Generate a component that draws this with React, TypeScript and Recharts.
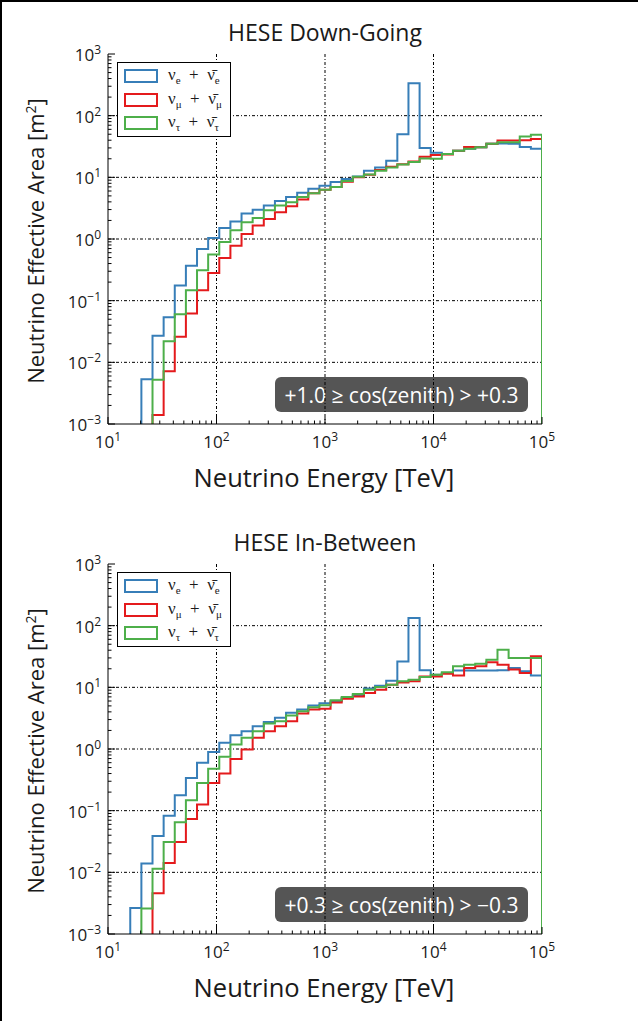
import React from 'react';
import { LineChart, Line, XAxis, YAxis, CartesianGrid } from 'recharts';

// Bin edges (TeV), 39 log-spaced bins from 10 TeV to 100 PeV
const ENERGY_EDGES_TEV = [10, 12.664, 16.037, 20.309, 25.719, 32.57, 41.246, 52.233, 66.147, 83.768, 106.08, 134.34, 170.13, 215.44, 272.83, 345.51, 437.55, 554.1, 701.7, 888.6, 1125.3, 1425.1, 1804.7, 2285.4, 2894.3, 3665.3, 4641.6, 5878.0, 7443.8, 9426.7, 11938, 15118, 19145, 24245, 30703, 38882, 49239, 62355, 78965, 100000];

// HESE Down-Going (effective area, m^2, per bin)
const DOWN_NUE = [0, 0, 0, 0.0053, 0.027, 0.054, 0.177, 0.37, 0.69, 1.04, 1.51, 1.93, 2.58, 2.99, 3.48, 4.14, 4.81, 5.6, 6.5, 7.3, 8.4, 9.4, 10.3, 12.8, 14.5, 18.6, 50, 334, 30, 25, 24, 27, 29, 30.7, 35, 35.5, 35, 31, 29];
const DOWN_NUMU = [0, 0, 0, 0, 0.0014, 0.0072, 0.026, 0.062, 0.148, 0.28, 0.49, 0.78, 1.21, 1.65, 2.12, 2.72, 3.39, 4.36, 5.5, 6.3, 7.0, 8.5, 10.0, 11.0, 13.2, 14.8, 16.3, 18.0, 21.5, 23, 23.5, 27, 31, 30.7, 35, 39.4, 39.4, 40, 42];
const DOWN_NUTAU = [0, 0, 0, 0, 0.0052, 0.022, 0.06, 0.148, 0.31, 0.56, 0.89, 1.39, 1.87, 2.2, 2.93, 3.48, 3.95, 4.8, 5.5, 6.3, 7.0, 8.7, 10.2, 11.1, 12.8, 14.5, 16.2, 17.7, 20.2, 20, 24, 27, 29, 30.7, 35, 37, 37, 46, 49];

// HESE In-Between
const MID_NUE = [0, 0, 0.00265, 0.0139, 0.039, 0.083, 0.178, 0.34, 0.6, 0.89, 1.26, 1.67, 1.94, 2.34, 2.75, 3.2, 3.86, 4.37, 5.07, 5.5, 5.95, 6.7, 7.5, 9.6, 10.6, 12.8, 26.3, 133, 19, 16, 17, 18.8, 18.8, 18.8, 18.8, 19, 20.6, 18.2, 15.5];
const MID_NUMU = [0, 0, 0, 0, 0.0046, 0.0142, 0.031, 0.073, 0.126, 0.28, 0.4, 0.69, 0.98, 1.52, 1.94, 2.34, 2.82, 3.76, 4.37, 4.5, 5.7, 6.5, 7.1, 8.1, 9.1, 11, 12, 12.5, 15, 15, 16.6, 15.5, 20.6, 21.9, 25.4, 23.3, 19.4, 17, 31.8];
const MID_NUTAU = [0, 0, 0, 0.0026, 0.0114, 0.031, 0.065, 0.147, 0.28, 0.48, 0.75, 1.18, 1.52, 1.94, 2.59, 2.82, 3.49, 4.1, 4.75, 5.1, 6.2, 7.0, 7.8, 9.1, 10.1, 11.0, 12.5, 13.3, 14.7, 16, 17.5, 21.9, 23.3, 24.2, 28.1, 40.8, 30, 30, 30];

const X_MAJOR = [10, 100, 1000, 10000, 100000];
const Y_MAJOR = [0.001, 0.01, 0.1, 1, 10, 100, 1000];
const MINOR_MULT = [2, 3, 4, 5, 6, 7, 8, 9];
const X_DECADES = [10, 100, 1000, 10000];
const Y_DECADES = [0.001, 0.01, 0.1, 1, 10, 100];
const X_TICKS = [...X_MAJOR, ...X_DECADES.flatMap((d) => MINOR_MULT.map((m) => m * d))];
const Y_TICKS = [...Y_MAJOR, ...Y_DECADES.flatMap((d) => MINOR_MULT.map((m) => +(m * d).toPrecision(3)))];

const COLORS = { nue: '#377eb8', numu: '#e41a1c', nutau: '#4daf4a' };
const FLOOR = 1e-6;
const SANS = "'Open Sans', 'DejaVu Sans', sans-serif";
const SERIF = "'Liberation Serif', 'DejaVu Serif', serif";

function buildRows(a: number[], b: number[], c: number[]) {
  const pos = (v: number) => (v > 0 ? v : FLOOR);
  const rows = a.map((_, i) => ({ e: ENERGY_EDGES_TEV[i], nue: pos(a[i]), numu: pos(b[i]), nutau: pos(c[i]) }));
  const last = a.length - 1;
  const eEnd = ENERGY_EDGES_TEV[last + 1];
  rows.push({ e: eEnd, nue: pos(a[last]), numu: pos(b[last]), nutau: pos(c[last]) });
  rows.push({ e: eEnd, nue: FLOOR, numu: FLOOR, nutau: FLOOR });
  return rows;
}

const isMajor = (v: number) => Math.abs(Math.log10(v) - Math.round(Math.log10(v))) < 1e-6;
const expText = (v: number) => {
  const n = Math.round(Math.log10(v));
  return n < 0 ? `\u2212${-n}` : `${n}`;
};

const MAJ = 7;
const MIN = 3.5;
const TICK_FS = 17;
const EXP_FS = 12;

const XBottomTick = (p: any) => {
  const { x, y, payload } = p;
  const v = payload.value;
  const m = isMajor(v);
  return (
    <g>
      <line x1={x} x2={x} y1={y} y2={y - (m ? MAJ : MIN)} stroke="#000" strokeWidth={1} />
      {m && (
        <text x={x} y={y + 24} textAnchor="middle" fontFamily={SANS} fontSize={TICK_FS} fill="#1a1a1a">
          10<tspan dy={-7} fontSize={EXP_FS}>{expText(v)}</tspan>
        </text>
      )}
    </g>
  );
};
const XTopTick = (p: any) => {
  const { x, y, payload } = p;
  const m = isMajor(payload.value);
  return <line x1={x} x2={x} y1={y} y2={y + (m ? MAJ : MIN)} stroke="#000" strokeWidth={1} />;
};
const YLeftTick = (p: any) => {
  const { x, y, payload } = p;
  const v = payload.value;
  const m = isMajor(v);
  return (
    <g>
      <line x1={x} x2={x + (m ? MAJ : MIN)} y1={y} y2={y} stroke="#000" strokeWidth={1} />
      {m && (
        <text x={x - 7} y={y + 7} textAnchor="end" fontFamily={SANS} fontSize={TICK_FS} fill="#1a1a1a">
          10<tspan dy={-7} fontSize={EXP_FS}>{expText(v)}</tspan>
        </text>
      )}
    </g>
  );
};
const YRightTick = (p: any) => {
  const { x, y, payload } = p;
  const m = isMajor(payload.value);
  return <line x1={x} x2={x - (m ? MAJ : MIN)} y1={y} y2={y} stroke="#000" strokeWidth={1} />;
};

const LEGEND_ITEMS = [
  { key: 'nue', flav: 'e' },
  { key: 'numu', flav: '\u03bc' },
  { key: 'nutau', flav: '\u03c4' },
];

function Panel({ title, range, nue, numu, nutau }: { title: string; range: string; nue: number[]; numu: number[]; nutau: number[] }) {
  const data = buildRows(nue, numu, nutau);
  return (
    <div style={{ position: 'relative', width: 638, height: 510 }}>
      {/* annotation box (drawn under the grid) */}
      <div
        style={{
          position: 'absolute', left: 275, top: 377, width: 253, height: 35, background: '#555555', borderRadius: 6,
          color: '#fff', fontFamily: SANS, fontSize: 21, display: 'flex', alignItems: 'center', justifyContent: 'center', whiteSpace: 'nowrap',
        }}
      >
        {range}
      </div>
      <div style={{ position: 'absolute', left: 0, top: 0 }}>
        <LineChart width={638} height={510} data={data} margin={{ top: 54, right: 96, bottom: 0, left: 0 }}>
          <CartesianGrid
            xAxisId="b"
            yAxisId="l"
            stroke="#000"
            strokeWidth={1}
            strokeDasharray="3 2 1 2"
            verticalValues={[100, 1000, 10000]}
            horizontalValues={[0.01, 0.1, 1, 10, 100]}
          />
          <XAxis xAxisId="b" dataKey="e" type="number" scale="log" domain={[10, 100000]} allowDataOverflow ticks={X_TICKS} interval={0}
            tickSize={0} tickMargin={0} tickLine={false} tick={(p: any) => <XBottomTick {...p} />} height={86} axisLine={{ stroke: '#000' }} />
          <XAxis xAxisId="t" orientation="top" dataKey="e" type="number" scale="log" domain={[10, 100000]} allowDataOverflow ticks={X_TICKS} interval={0}
            tickSize={0} tickMargin={0} tickLine={false} tick={(p: any) => <XTopTick {...p} />} height={0} axisLine={{ stroke: '#000' }} />
          <YAxis yAxisId="l" type="number" scale="log" domain={[0.001, 1000]} allowDataOverflow ticks={Y_TICKS} interval={0}
            tickSize={0} tickMargin={0} tickLine={false} tick={(p: any) => <YLeftTick {...p} />} width={108} axisLine={{ stroke: '#000' }} />
          <YAxis yAxisId="r" orientation="right" type="number" scale="log" domain={[0.001, 1000]} allowDataOverflow ticks={Y_TICKS} interval={0}
            tickSize={0} tickMargin={0} tickLine={false} tick={(p: any) => <YRightTick {...p} />} width={0} axisLine={{ stroke: '#000' }} />
          <Line xAxisId="b" yAxisId="l" dataKey="nue" type="stepAfter" stroke={COLORS.nue} strokeWidth={2} dot={false} isAnimationActive={false} />
          <Line xAxisId="b" yAxisId="l" dataKey="numu" type="stepAfter" stroke={COLORS.numu} strokeWidth={2} dot={false} isAnimationActive={false} />
          <Line xAxisId="b" yAxisId="l" dataKey="nutau" type="stepAfter" stroke={COLORS.nutau} strokeWidth={2} dot={false} isAnimationActive={false} />
        </LineChart>
      </div>
      {/* title */}
      <div style={{ position: 'absolute', left: 325, top: 32, transform: 'translate(-50%, -50%)', fontFamily: SANS, fontSize: 23, color: '#1a1a1a', whiteSpace: 'nowrap', lineHeight: 1 }}>
        {title}
      </div>
      {/* y label */}
      <div style={{ position: 'absolute', left: 35, top: 241, transform: 'translate(-50%, -50%) rotate(-90deg)', fontFamily: SANS, fontSize: 22, color: '#1a1a1a', whiteSpace: 'nowrap', lineHeight: 1 }}>
        Neutrino Effective Area [m<sup style={{ fontSize: 14, verticalAlign: 'super', lineHeight: 0 }}>2</sup>]
      </div>
      {/* x label */}
      <div style={{ position: 'absolute', left: 324, top: 478, transform: 'translate(-50%, -50%)', fontFamily: SANS, fontSize: 25.5, color: '#1a1a1a', whiteSpace: 'nowrap', lineHeight: 1 }}>
        Neutrino Energy [TeV]
      </div>
      {/* legend */}
      <div style={{ position: 'absolute', left: 117, top: 62, width: 112, height: 73, border: '1px solid #000', background: '#fff' }}>
        {LEGEND_ITEMS.map((it, i) => (
          <div key={it.key} style={{ position: 'absolute', left: 0, top: 6 + i * 23.5, height: 14, width: 112 }}>
            <div style={{ position: 'absolute', left: 6, top: 0, width: 30, height: 10, border: `2px solid ${(COLORS as any)[it.key]}` }} />
            <div style={{ position: 'absolute', left: 50, top: -4, fontFamily: SERIF, fontSize: 17, color: '#1a1a1a', whiteSpace: 'nowrap', lineHeight: '20px' }}>
              {'\u03bd'}<sub style={{ fontSize: 11, lineHeight: 0 }}>{it.flav}</sub>{'\u2002+\u2002'}{'\u03bd\u0304'}<sub style={{ fontSize: 11, lineHeight: 0 }}>{it.flav}</sub>
            </div>
          </div>
        ))}
      </div>
    </div>
  );
}

export default function App() {
  return (
    <div style={{ position: 'absolute', left: 0, top: 0, width: 638, height: 1021, background: '#fff', overflow: 'hidden' }}>
      <div style={{ position: 'absolute', left: 0, top: 0, width: 2, height: 1021, background: '#000' }} />
      <div style={{ position: 'absolute', left: 0, top: 0, width: 638, height: 2, background: '#000' }} />
      <div style={{ position: 'absolute', left: 0, top: 0 }}>
        <Panel title="HESE Down-Going" range={'+1.0 \u2265 cos(zenith) > +0.3'} nue={DOWN_NUE} numu={DOWN_NUMU} nutau={DOWN_NUTAU} />
      </div>
      <div style={{ position: 'absolute', left: 0, top: 510 }}>
        <Panel title="HESE In-Between" range={'+0.3 \u2265 cos(zenith) > \u22120.3'} nue={MID_NUE} numu={MID_NUMU} nutau={MID_NUTAU} />
      </div>
    </div>
  );
}
